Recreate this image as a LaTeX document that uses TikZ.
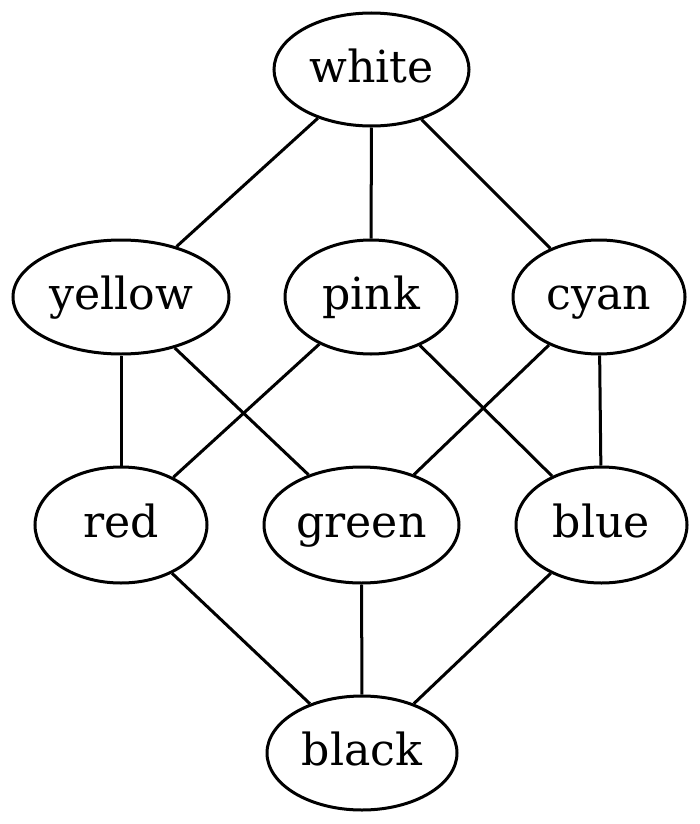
\documentclass[tikz,border=0pt]{standalone}
\usepackage{fontspec}
\setmainfont{DejaVu Serif}
\usetikzlibrary{shapes.geometric}
\begin{document}
\begin{tikzpicture}[x=0.3165pt,y=-0.3165pt,
  vtx/.style={draw, ellipse, line width=0.95pt, inner sep=0pt,
    text height=10pt, text depth=2pt,
    font=\fontsize{14}{16}\selectfont},
  edge/.style={line width=0.95pt}]
\useasboundingbox (0,0) rectangle (700,824);
\node[vtx, minimum width=195*0.3165pt, minimum height=113*0.3165pt] (white) at (371.5,69.5) {white};
\node[vtx, minimum width=216*0.3165pt, minimum height=114*0.3165pt] (yellow) at (121,297) {yellow};
\node[vtx, minimum width=172*0.3165pt, minimum height=114*0.3165pt] (pink) at (371,297) {pink};
\node[vtx, minimum width=172*0.3165pt, minimum height=114*0.3165pt] (cyan) at (599,297) {cyan};
\node[vtx, minimum width=172*0.3165pt, minimum height=116*0.3165pt] (red) at (121,525) {red};
\node[vtx, minimum width=195*0.3165pt, minimum height=116*0.3165pt] (green) at (361.5,525) {green};
\node[vtx, minimum width=171*0.3165pt, minimum height=116*0.3165pt] (blue) at (601.5,525) {blue};
\node[vtx, minimum width=190*0.3165pt, minimum height=114*0.3165pt] (black) at (362,753) {black};
\draw[edge] (white) -- (yellow);
\draw[edge] (white) -- (pink);
\draw[edge] (white) -- (cyan);
\draw[edge] (yellow) -- (red);
\draw[edge] (yellow) -- (green);
\draw[edge] (pink) -- (red);
\draw[edge] (pink) -- (blue);
\draw[edge] (cyan) -- (green);
\draw[edge] (cyan) -- (blue);
\draw[edge] (red) -- (black);
\draw[edge] (green) -- (black);
\draw[edge] (blue) -- (black);
\end{tikzpicture}
\end{document}
